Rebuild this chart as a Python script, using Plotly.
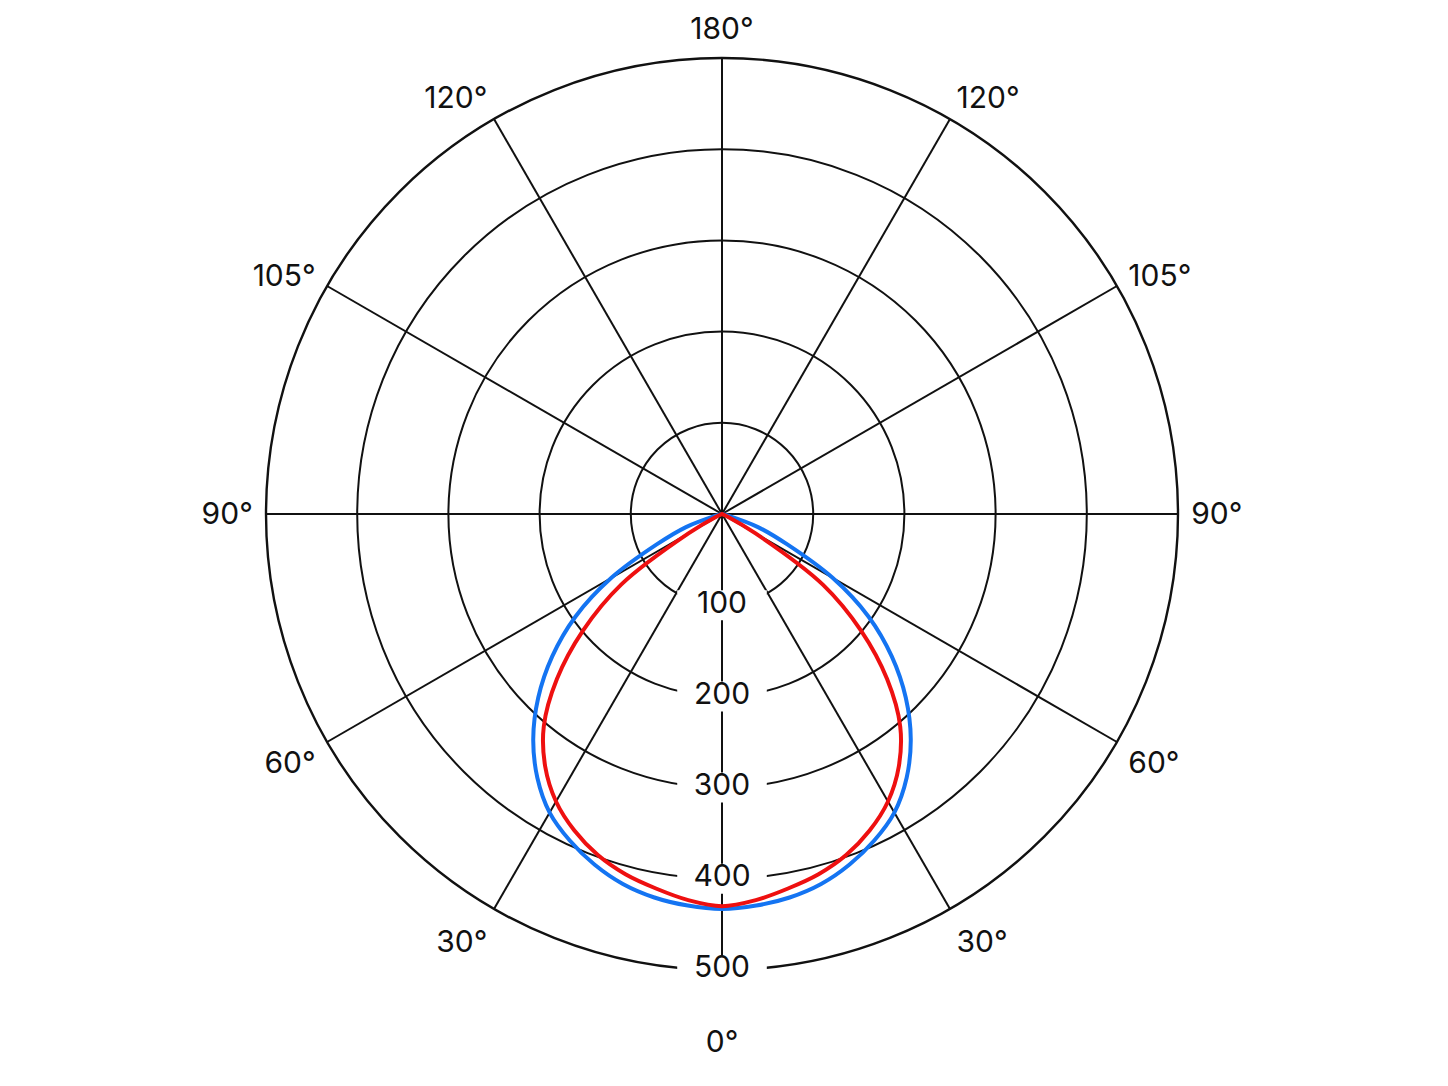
import plotly.graph_objects as go

# Half-plane angles (deg from nadir) and intensities, mirrored to both sides
angles = [0, 5, 10, 15, 20, 25, 30, 35, 40, 45, 50, 55, 60, 65, 70, 75, 80, 85, 90]
blue_vals = [433, 431, 427, 420, 409, 395, 378, 353, 322, 285, 243, 196, 140, 79, 42, 6, 1, 0, 0]
red_vals = [430, 425, 417, 409, 398, 383, 364, 338, 304, 256, 199, 135, 42, 7, 1, 0, 0, 0, 0]

radial_ticks = [100, 200, 300, 400, 500]
angle_tickvals = [0, 30, 60, 90, 120, 150, 180, 210, 240, 270, 300, 330]
angle_ticktext = ["<br>0°", "30°", "60°", "90°", "105°", "120°", "180°",
                  "120°", "105°", "90°", "60°", "30°"]


def mirror(a, v):
    th = [-x for x in reversed(a)] + a[1:]
    rr = list(reversed(v)) + v[1:]
    return th, rr


FONT = "Inter, Roboto, sans-serif"
INK = "#111111"

fig = go.Figure()
for vals, color in [(blue_vals, "#1474f2"), (red_vals, "#ee1010")]:
    th, rr = mirror(angles, vals)
    fig.add_trace(go.Scatterpolar(
        r=rr, theta=th, mode="lines",
        line=dict(color=color, width=4, shape="spline", smoothing=0.9),
        hoverinfo="skip", showlegend=False,
    ))

fig.add_trace(go.Scatterpolar(
    r=radial_ticks, theta=[0] * len(radial_ticks),
    mode="markers+text",
    text=[str(v) for v in radial_ticks],
    textposition="middle center",
    textfont=dict(family=FONT, size=30, color=INK),
    marker=dict(symbol="line-ew", size=64, color="white",
                line=dict(color="white", width=30)),
    cliponaxis=False, hoverinfo="skip", showlegend=False,
))

fig.update_layout(
    width=1448, height=1086,
    paper_bgcolor="white",
    margin=dict(l=0, r=0, t=0, b=0),
    showlegend=False,
    polar=dict(
        domain=dict(x=[0.17818, 0.80801], y=[0.11418, 0.95396]),
        bgcolor="white",
        angularaxis=dict(
            rotation=-90, direction="counterclockwise",
            tickmode="array", tickvals=angle_tickvals, ticktext=angle_ticktext,
            showline=True, linecolor=INK, linewidth=2.4,
            showgrid=True, gridcolor=INK, gridwidth=1.8,
            ticks="outside", ticklen=6, tickcolor="rgba(0,0,0,0)",
            tickfont=dict(family=FONT, size=30, color=INK),
            layer="below traces",
        ),
        radialaxis=dict(
            range=[0, 500], tickmode="array", tickvals=radial_ticks,
            showticklabels=False, ticks="", showline=False,
            showgrid=True, gridcolor=INK, gridwidth=1.8,
            layer="below traces",
        ),
    ),
)

fig.write_html("out.html")
